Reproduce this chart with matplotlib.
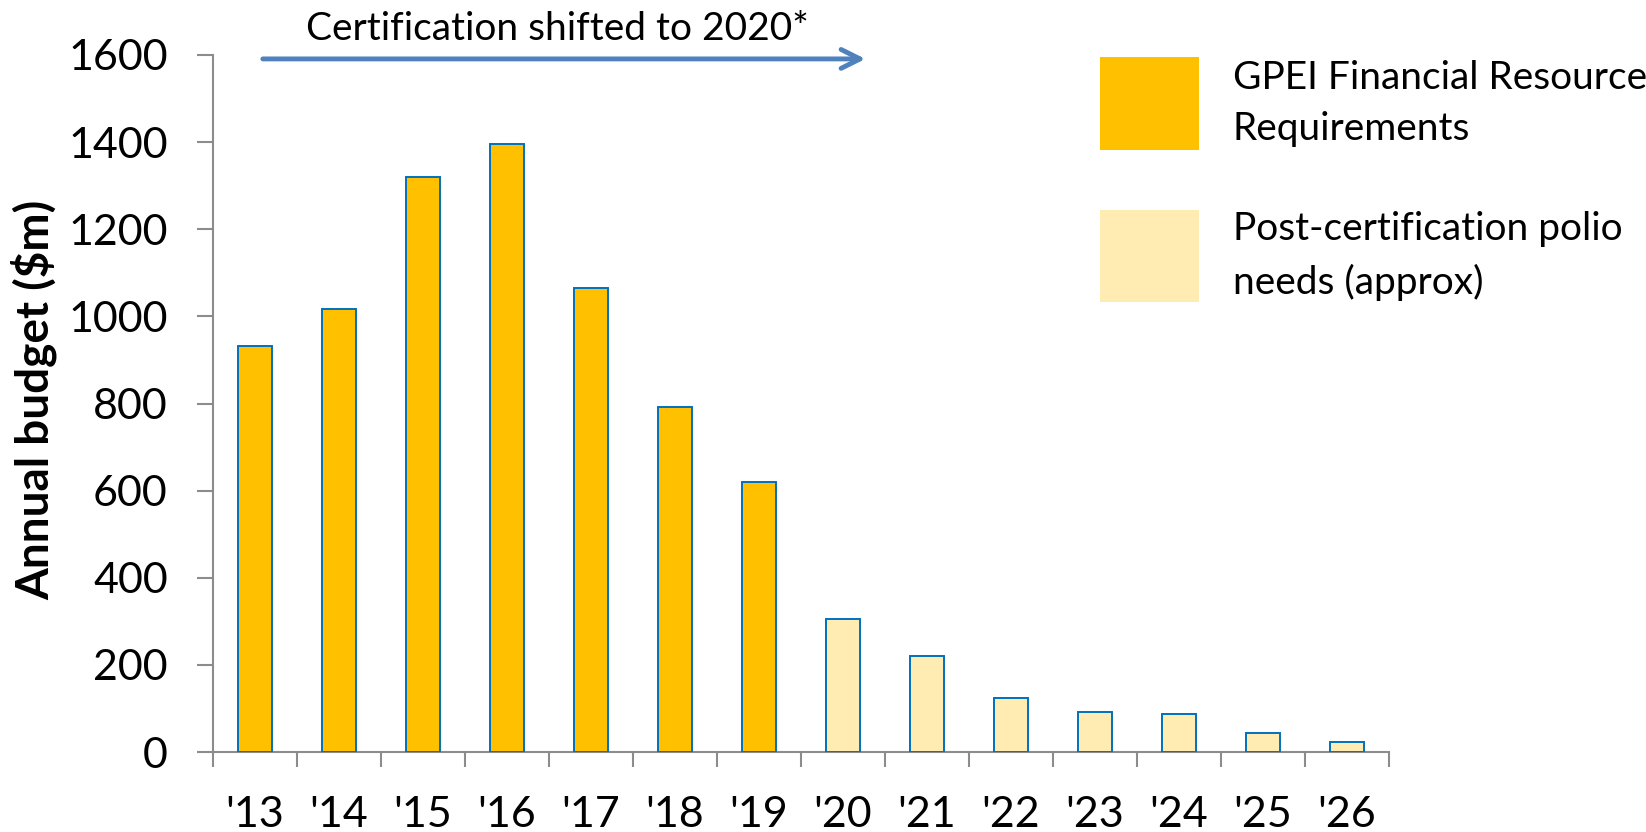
import numpy as np
import matplotlib
matplotlib.use("Agg")
import matplotlib.pyplot as plt
from matplotlib.patches import Rectangle

plt.rcParams['font.family'] = ['Lato', 'DejaVu Sans']

# data
years = ["'13", "'14", "'15", "'16", "'17", "'18", "'19",
         "'20", "'21", "'22", "'23", "'24", "'25", "'26"]
gpei_budget = [932, 1017, 1320, 1395, 1064, 791, 619]
post_cert_budget = [305, 220, 125, 92, 87, 43, 24]

gpei_label = "GPEI Financial Resource\nRequirements"
post_label = "Post-certification polio\nneeds (approx)"
arrow_text = "Certification shifted to 2020*"

gpei_color = '#FFC000'
post_color = '#FFECB3'
edge_color = '#0070C0'
axis_gray = '#8C8C8C'

W, H = 1646, 832
fig = plt.figure(figsize=(W / 100, H / 100), dpi=100)
ax = fig.add_axes([213 / W, 1 - 752 / H, (1389 - 213) / W, (752 - 55) / H])

x = np.arange(len(years))
n_gpei = len(gpei_budget)
ax.bar(x[:n_gpei], gpei_budget, width=0.41, color=gpei_color,
       edgecolor=edge_color, linewidth=1.4, zorder=3)
ax.bar(x[n_gpei:], post_cert_budget, width=0.41, color=post_color,
       edgecolor=edge_color, linewidth=1.4, zorder=3)

ax.set_xlim(-0.5, len(years) - 0.5)
ax.set_ylim(0, 1600)
ax.set_yticks(np.arange(0, 1601, 200))
ax.set_xticks(x)
ax.set_xticklabels(years)
ax.set_xticks(np.arange(-0.5, len(years), 1), minor=True)

for side in ('top', 'right'):
    ax.spines[side].set_visible(False)
for side in ('left', 'bottom'):
    ax.spines[side].set_color(axis_gray)
    ax.spines[side].set_linewidth(1.5)

ax.tick_params(axis='y', direction='out', length=11.5, width=1.5,
               color=axis_gray, labelsize=31, pad=21)
ax.tick_params(axis='x', which='major', length=0, labelsize=31, pad=32)
ax.tick_params(axis='x', which='minor', direction='out', length=11,
               width=1.5, color=axis_gray)

fig.text(34 / W, 1 - 400 / H, "Annual budget ($m)", rotation=90,
         ha='center', va='center', fontsize=33, fontweight='bold')

# arrow + caption above the plot
ax.annotate('', xy=(7.3, 1591), xytext=(0.06, 1591),
            arrowprops=dict(arrowstyle='->', color='#4F81BD', lw=3.5,
                            mutation_scale=34),
            annotation_clip=False)
ax.text(3.6, 1660, arrow_text, ha='center', va='center', fontsize=28,
        clip_on=False)

# legend drawn by hand on the right
for (y0, y1), col, lab in [((57, 150), gpei_color, gpei_label),
                           ((210, 302), post_color, post_label)]:
    fig.add_artist(Rectangle((1100 / W, 1 - y1 / H), 99 / W, (y1 - y0) / H,
                             transform=fig.transFigure, color=col, lw=0))
    fig.text(1233 / W, 1 - (y0 + y1) / 2 / H, lab, ha='left', va='center',
             fontsize=28, linespacing=1.55)

fig.savefig('out.png', dpi=100)
